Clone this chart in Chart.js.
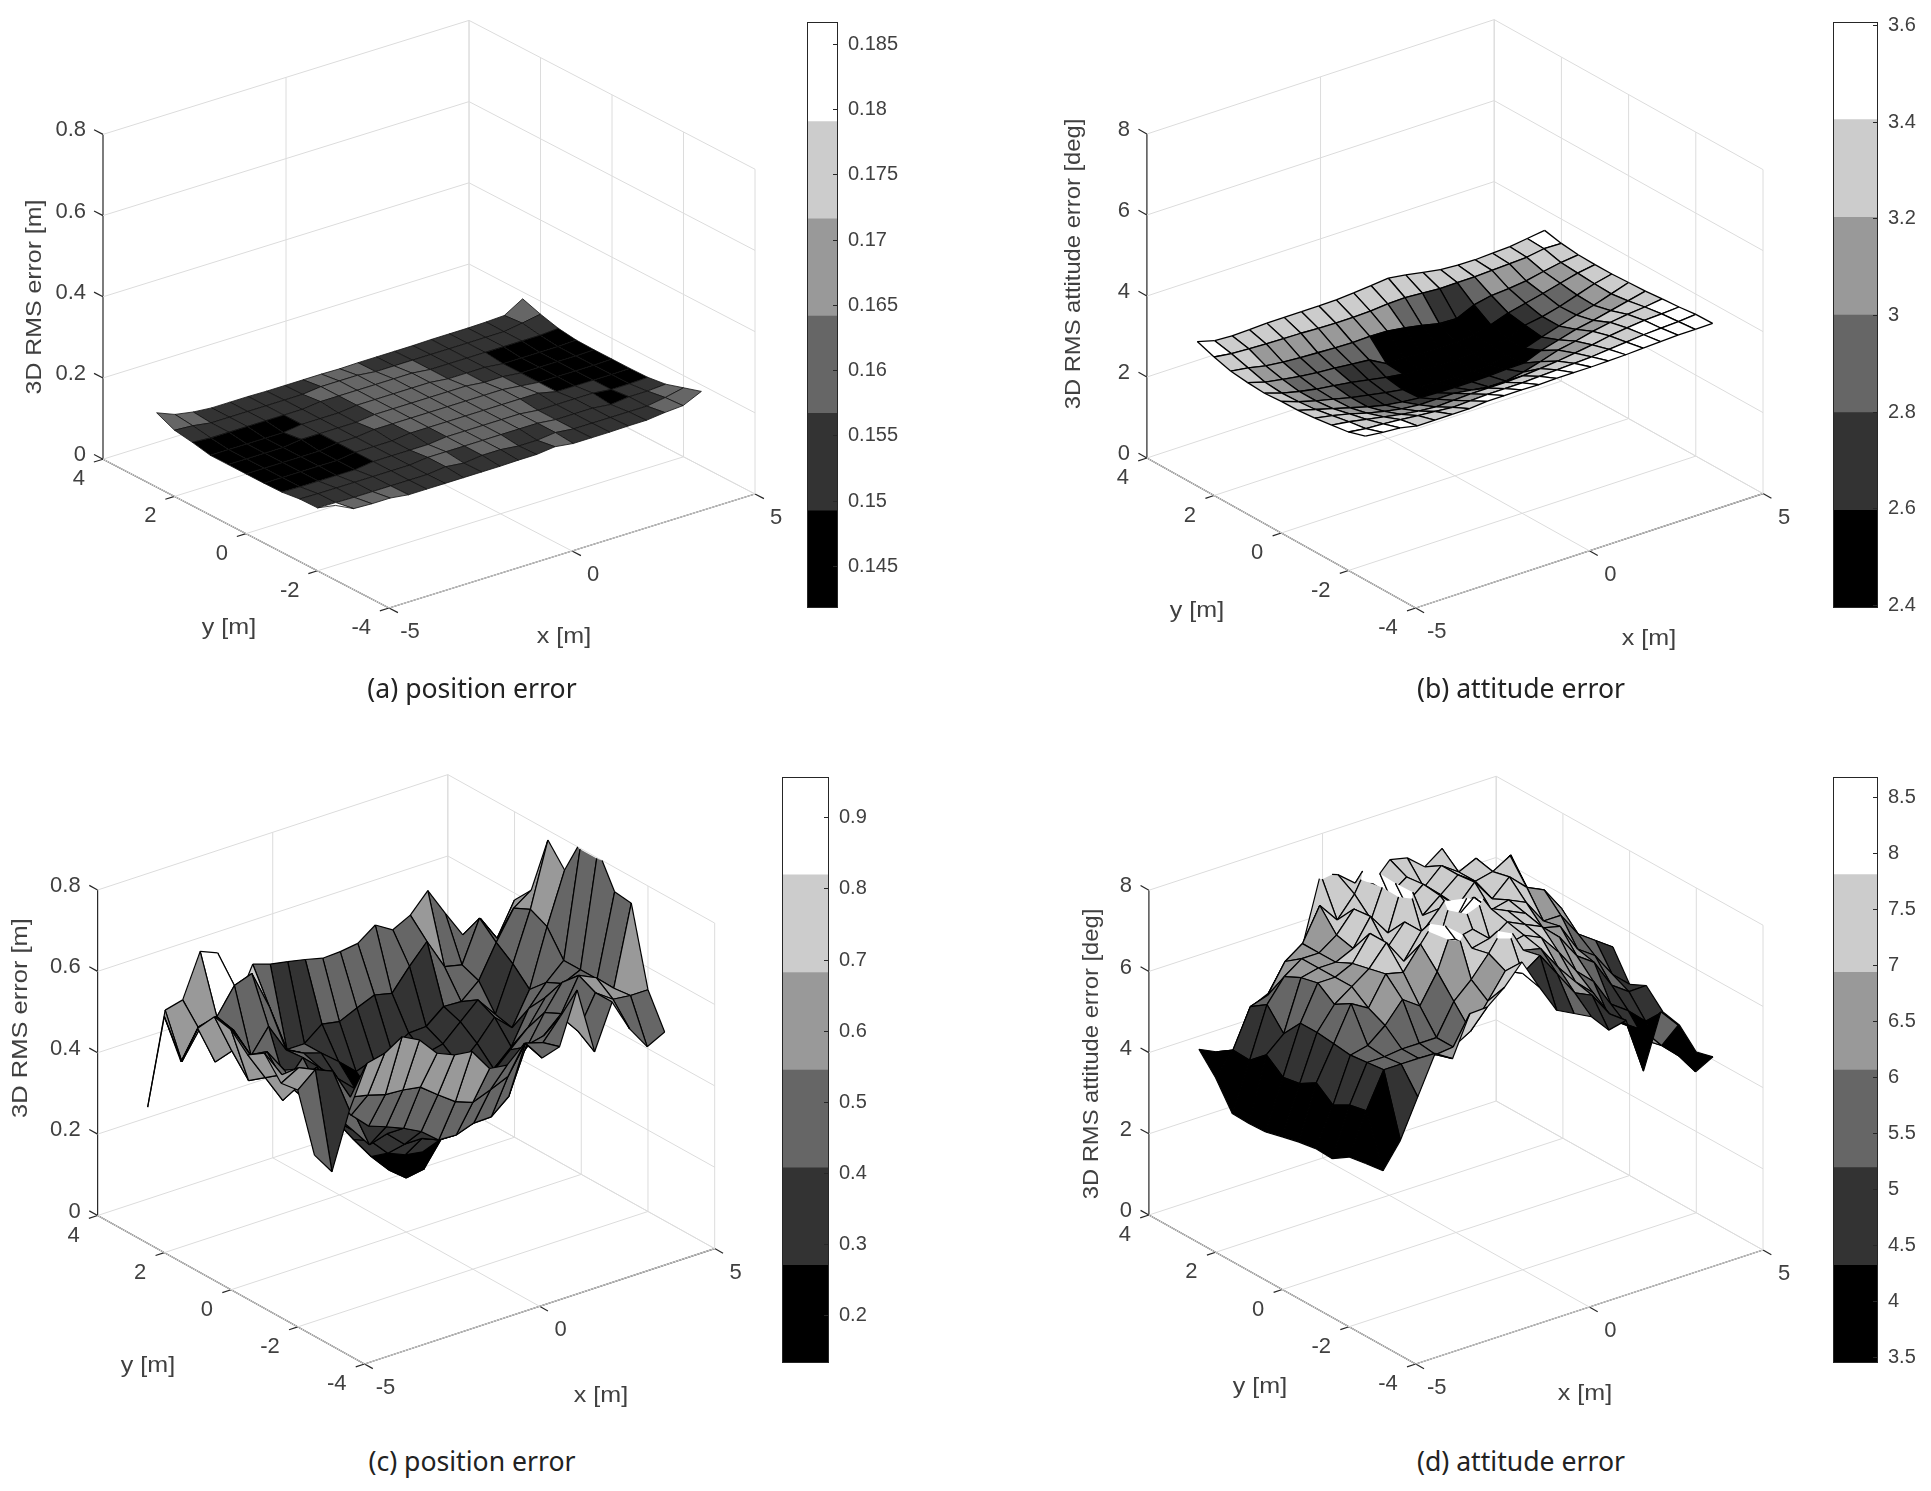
<!DOCTYPE html>
<html>
<head>
<meta charset="utf-8">
<title>3D RMS error</title>
<script src="https://cdn.jsdelivr.net/npm/chart.js@4"></script>
<style>
  html, body { margin: 0; background: #fff; overflow: hidden; }
  body { position: relative; width: 1931px; height: 1491px; }
  canvas { position: absolute; }
  .caption { position: absolute; width: 500px; text-align: center; font-family: "Noto Sans", sans-serif;
             font-size: 28px; color: #222; transform: scaleX(0.95); line-height: 36px; }
</style>
</head>
<body>
<script>
// grid of the measured surface
const gridX = [-5, -4.5, -4, -3.5, -3, -2.5, -2, -1.5, -1, -0.5, 0, 0.5, 1, 1.5, 2, 2.5, 3, 3.5, 4, 4.5, 5];
const gridY = [-2.5, -2, -1.5, -1, -0.5, 0, 0.5, 1, 1.5, 2, 2.5];
const xTicks = [-5, 0, 5];
const yTicks = [-4, -2, 0, 2, 4];
const bandColors = ['#000000', '#333333', '#666666', '#999999', '#cccccc', '#ffffff'];

// z values, one row per y in gridY, one column per x in gridX
const zA = [
  [.184,.162,.160,.160,.154,.154,.154,.154,.154,.154,.155,.155,.160,.154,.154,.154,.155,.155,.160,.163,.184],
  [.155,.154,.153,.153,.153,.153,.153,.158,.153,.158,.158,.153,.153,.158,.153,.153,.153,.153,.153,.160,.170],
  [.154,.153,.153,.153,.153,.153,.153,.158,.158,.158,.158,.158,.158,.158,.153,.153,.153,.148,.153,.153,.156],
  [.148,.147,.147,.147,.147,.153,.153,.153,.153,.158,.158,.158,.158,.158,.153,.153,.153,.153,.148,.148,.150],
  [.147,.147,.147,.147,.147,.153,.153,.153,.158,.158,.158,.158,.158,.158,.158,.158,.148,.148,.148,.148,.149],
  [.147,.147,.147,.147,.147,.153,.153,.158,.158,.158,.158,.158,.158,.158,.158,.153,.148,.148,.148,.148,.149],
  [.147,.147,.147,.147,.153,.153,.153,.153,.158,.158,.158,.158,.158,.158,.153,.153,.148,.148,.148,.148,.149],
  [.147,.147,.147,.147,.147,.153,.153,.153,.158,.158,.158,.158,.158,.153,.153,.153,.148,.148,.148,.148,.150],
  [.156,.153,.153,.153,.153,.153,.153,.158,.158,.158,.158,.158,.158,.153,.153,.153,.153,.153,.153,.153,.156],
  [.163,.160,.153,.153,.153,.153,.153,.153,.158,.158,.158,.153,.153,.153,.153,.153,.153,.153,.153,.160,.168],
  [.183,.165,.157,.153,.153,.153,.152,.152,.152,.152,.151,.152,.152,.152,.152,.153,.153,.153,.154,.156,.183]
];
const zB = [
  [3.55,3.50,3.47,3.38,3.38,3.38,3.38,3.42,3.42,3.42,3.41,3.42,3.42,3.42,3.43,3.44,3.46,3.48,3.50,3.50,3.51],
  [3.42,3.36,3.34,3.30,3.26,3.22,3.18,3.20,3.22,3.22,3.22,3.24,3.26,3.28,3.30,3.34,3.38,3.42,3.44,3.46,3.50],
  [3.36,3.30,3.22,3.14,3.06,3.00,2.96,2.98,3.00,3.00,3.00,3.02,3.06,3.10,3.16,3.22,3.30,3.36,3.40,3.42,3.45],
  [3.30,3.22,3.12,3.00,2.90,2.82,2.78,2.78,2.78,2.72,2.66,2.66,2.74,2.86,3.00,3.08,3.18,3.26,3.32,3.36,3.42],
  [3.26,3.14,3.02,2.90,2.78,2.68,2.62,2.58,2.56,2.55,2.55,2.56,2.58,2.59,2.76,2.88,3.00,3.08,3.18,3.28,3.38],
  [3.25,3.10,2.98,2.88,2.78,2.70,2.62,2.55,2.50,2.46,2.44,2.44,2.46,2.52,2.58,2.72,2.85,2.98,3.08,3.22,3.36],
  [3.22,3.08,2.98,2.90,2.84,2.78,2.70,2.62,2.56,2.52,2.50,2.50,2.52,2.56,2.59,2.78,2.85,2.96,3.10,3.24,3.34],
  [3.25,3.12,3.05,2.98,2.93,2.90,2.86,2.82,2.59,2.58,2.57,2.56,2.56,2.59,2.70,2.85,2.95,3.05,3.16,3.27,3.34],
  [3.30,3.24,3.15,3.10,3.07,3.05,3.03,3.02,3.03,3.02,2.96,2.88,2.78,2.76,2.96,3.05,3.08,3.13,3.22,3.30,3.35],
  [3.42,3.36,3.34,3.32,3.31,3.30,3.28,3.27,3.27,3.28,3.32,3.33,3.30,3.27,3.28,3.28,3.30,3.32,3.34,3.41,3.40],
  [3.57,3.45,3.43,3.44,3.46,3.46,3.46,3.46,3.47,3.50,3.54,3.58,3.52,3.44,3.37,3.34,3.33,3.35,3.37,3.43,3.49]
];
const zC = [
  [.445,.39,.527,.628,.638,.665,.643,.596,.578,.572,.516,.51,.55,.499,.513,.638,.472,.58,.50,.442,.464],
  [.582,.618,.60,.522,.513,.50,.497,.49,.457,.426,.41,.427,.445,.513,.50,.55,.50,.58,.55,.545,.545],
  [.576,.60,.54,.50,.441,.40,.384,.366,.344,.309,.307,.322,.323,.359,.47,.48,.52,.60,.58,.54,.735],
  [.627,.56,.52,.55,.47,.42,.317,.33,.29,.29,.272,.28,.32,.34,.38,.43,.50,.56,.54,.54,.74],
  [.60,.53,.46,.50,.44,.38,.33,.29,.245,.227,.22,.265,.31,.33,.36,.40,.44,.50,.52,.54,.82],
  [.639,.50,.52,.47,.42,.38,.33,.27,.214,.167,.133,.14,.20,.28,.29,.33,.37,.45,.50,.54,.82],
  [.648,.55,.48,.52,.46,.45,.38,.35,.30,.28,.28,.28,.28,.31,.33,.37,.42,.38,.46,.60,.725],
  [.597,.50,.564,.489,.479,.39,.44,.40,.36,.32,.29,.30,.32,.35,.36,.40,.44,.39,.50,.62,.776],
  [.492,.564,.574,.527,.45,.508,.436,.414,.40,.365,.326,.341,.351,.378,.38,.415,.413,.45,.53,.60,.63],
  [.58,.455,.52,.537,.60,.615,.519,.40,.40,.434,.426,.445,.463,.453,.505,.552,.476,.466,.567,.503,.583],
  [.335,.559,.57,.675,.657,.51,.601,.587,.579,.57,.559,.561,.567,.598,.572,.594,.64,.57,.503,.529,.462]
];
const zD = [
  [4.25,3.93,4.54,5.47,6.4,6.13,7.1,7.12,7.47,7.95,7.19,6.48,6.26,6.04,5.57,5.67,4.28,5.6,5.13,3.84,4.07],
  [4.18,5.18,6.05,6.05,6.05,6.0,6.05,6.3,6.9,7.5,7.3,7.6,7.0,6.4,6.2,5.6,5.2,4.9,4.4,4.0,3.96],
  [3.91,5.09,6.0,6.0,6.05,6.05,6.05,6.8,7.2,7.7,8.3,7.5,7.4,6.8,6.3,5.9,5.1,4.8,4.3,4.1,4.39],
  [3.93,4.86,5.95,6.05,6.4,6.9,6.6,7.3,8.4,7.6,7.7,7.4,7.5,7.3,6.8,6.2,5.8,5.1,4.8,4.4,4.49],
  [3.86,5.18,6.0,6.85,6.6,7.3,7.2,7.75,8.3,7.6,7.7,7.3,7.6,7.4,7.2,6.8,6.2,5.9,5.2,4.9,4.91],
  [3.76,4.93,6.05,6.6,6.9,7.2,7.7,7.1,7.7,7.3,8.6,8.4,7.7,7.5,7.3,6.8,6.7,6.0,5.7,5.1,4.71],
  [3.65,4.86,6.05,6.9,6.9,7.1,7.7,7.2,7.7,7.3,7.75,7.4,7.75,7.3,7.4,7.2,6.6,6.6,6.0,5.7,5.4],
  [3.63,5.18,5.56,6.8,6.9,6.9,7.1,7.75,7.2,8.5,7.35,7.7,7.3,7.75,7.2,7.6,7.2,7.0,6.4,5.5,4.63],
  [3.65,4.82,6.05,6.6,6.9,6.9,7.2,7.7,7.3,8.4,7.4,7.75,7.35,7.7,7.4,7.5,7.75,6.8,6.3,5.8,5.19],
  [4.3,4.84,5.77,5.91,6.6,6.9,7.7,7.2,7.7,8.5,7.4,7.7,7.3,7.7,7.4,7.6,7.0,7.4,6.2,5.6,4.92],
  [4.77,4.57,4.47,5.4,5.59,6.22,6.53,8.1,7.95,7.6,7.45,7.9,7.8,7.44,7.75,6.9,6.36,6.46,5.42,5.12,4.8]
];
// cells whose shade reads differently from their height: [column, row, band]
const shadeC = [[0,8,3],[1,8,3],[0,9,3],[1,9,3],[2,9,3],[3,9,5],[4,9,4],[5,9,4],[9,7,0]];
const shadeD = [[10,0,1],[11,0,1],[12,0,2],[13,0,1],[14,0,1],[15,0,1],[18,0,0],[11,1,2],[12,1,2],[13,1,3],[14,1,2],[15,1,2],[17,1,3]];

// color bar band limits and ticks
const edgesA = [.14178, .14923, .15668, .16413, .17158, .17903, .18666];
const edgesB = [2.394, 2.596, 2.798, 3.0, 3.202, 3.404, 3.606];
const edgesC = [.133, .2702, .4074, .5446, .6818, .819, .9565];
const edgesD = [3.448, 4.32, 5.192, 6.064, 6.936, 7.808, 8.68];
const barTicksA = ['0.145', '0.15', '0.155', '0.16', '0.165', '0.17', '0.175', '0.18', '0.185'];
const barTicksB = ['2.4', '2.6', '2.8', '3', '3.2', '3.4', '3.6'];
const barTicksC = ['0.2', '0.3', '0.4', '0.5', '0.6', '0.7', '0.8', '0.9'];
const barTicksD = ['3.5', '4', '4.5', '5', '5.5', '6', '6.5', '7', '7.5', '8', '8.5'];

const zTicksPos = ['0', '0.2', '0.4', '0.6', '0.8'];
const zTicksAtt = ['0', '2', '4', '6', '8'];

const panels = [
  { z: zA, edges: edgesA, barTicks: barTicksA, zTicks: zTicksPos, zLabel: '3D RMS error [m]', caption: '(a) position error',
    box: [0, 0, 800, 680], front: [389, 608], ex: [36.6, -11.4], ey: [-35.75, -18.6], ez: 406,
    xl: [564, 637], yl: [229, 628], zl: [35, 297], zlStretch: 1.13, capPos: [472, 687], bar: [806.5, 22, 30.5, 585.5], barAxis: 70, edgeColor: '#111', edgeWidth: 0.8 },
  { z: zB, edges: edgesB, barTicks: barTicksB, zTicks: zTicksAtt, zLabel: '3D RMS attitude error [deg]', caption: '(b) attitude error',
    box: [1000, 0, 830, 680], front: [1415.7, 608], ex: [34.73, -11.44], ey: [-33.6, -18.75], ez: 40.5,
    xl: [1649, 639], yl: [1197, 611], zl: [1074, 264], zlStretch: 1.08, capPos: [1521, 687], bar: [1832.5, 22, 45.2, 585.5], barAxis: 53, edgeColor: '#000', edgeWidth: 1.3 },
  { z: zC, edges: edgesC, barTicks: barTicksC, zTicks: zTicksPos, zLabel: '3D RMS error [m]', caption: '(c) position error', shade: shadeC,
    box: [0, 740, 780, 680], front: [364.5, 1364], ex: [35.02, -11.54], ey: [-33.36, -18.56], ez: 406.9,
    xl: [601, 1396], yl: [148, 1366], zl: [21, 1018], zlStretch: 1.16, capPos: [472, 1460], bar: [782.4, 777.4, 47.1, 586], barAxis: 70, edgeColor: '#000', edgeWidth: 1.2 },
  { z: zD, edges: edgesD, barTicks: barTicksD, zTicks: zTicksAtt, zLabel: '3D RMS attitude error [deg]', caption: '(d) attitude error', shade: shadeD,
    box: [1000, 740, 830, 680], front: [1415.7, 1364], ex: [34.73, -11.4], ey: [-33.35, -18.62], ez: 40.6,
    xl: [1585, 1394], yl: [1260, 1387], zl: [1092, 1054], zlStretch: 1.08, capPos: [1521, 1460], bar: [1833, 777.4, 44.7, 586.2], barAxis: 53, edgeColor: '#000', edgeWidth: 1.2 }
];

const tickColor = '#404040';
const gridColor = '#dcdcdc';
const axisFont = '22px "Liberation Sans", Arial, sans-serif';
const barFont = '20px "Liberation Sans", Arial, sans-serif';

function project(p, x, y, z) {
  return {
    x: p.front[0] + (x + 5) * p.ex[0] + (y + 4) * p.ey[0],
    y: p.front[1] + (x + 5) * p.ex[1] + (y + 4) * p.ey[1] - z * p.ez
  };
}

function bandColor(p, i, j) {
  if (p.shade) {
    const fix = p.shade.find(s => s[0] === i && s[1] === j);
    if (fix) return bandColors[fix[2]];
  }
  const v = p.z[j][i];
  for (let k = 1; k < p.edges.length - 1; k++) {
    if (v < p.edges[k]) return bandColors[k - 1];
  }
  return bandColors[bandColors.length - 1];
}

function lineSet(points, color, width) {
  return { data: points, showLine: true, borderColor: color, borderWidth: width, pointRadius: 0, fill: false, tension: 0 };
}

function buildDatasets(p) {
  const zVals = p.zTicks.map(Number);
  const zMax = zVals[zVals.length - 1];
  const sets = [];
  const grid = (a, b) => sets.push(lineSet([project(p, a[0], a[1], a[2]), project(p, b[0], b[1], b[2])], gridColor, 1));

  // walls and floor
  zVals.forEach(z => {
    if (z > 0) grid([-5, 4, z], [5, 4, z]);
    if (z >= 0) grid([5, 4, z], [5, -4, z]);
  });
  xTicks.forEach(x => {
    if (x > -5) grid([x, 4, 0], [x, 4, zMax]);
    grid([x, -4, 0], [x, 4, 0]);
  });
  yTicks.forEach(y => {
    grid([5, y, 0], [5, y, zMax]);
    grid([-5, y, 0], [5, y, 0]);
  });

  // dark axes and their ticks
  const axis = (a, b) => sets.push(lineSet([project(p, a[0], a[1], a[2]), project(p, b[0], b[1], b[2])], '#262626', 1.2));
  axis([-5, 4, 0], [-5, 4, zMax]);
  axis([-5, 4, 0], [-5, -4, 0]);
  axis([-5, -4, 0], [5, -4, 0]);
  zVals.forEach(z => axis([-5, 4, z], [-5, 4.25, z]));
  xTicks.forEach(x => axis([x, -4, 0], [x, -4.25, 0]));
  yTicks.forEach(y => axis([-5, y, 0], [-5.25, y, 0]));

  // the surface vertices, drawn as cells by surfacePlugin
  const verts = [];
  gridY.forEach((y, j) => gridX.forEach((x, i) => verts.push(project(p, x, y, p.z[j][i]))));
  sets.push({ data: verts, showLine: false, pointRadius: 0 });
  return sets;
}

// keep the part of a cell under the top of the z axis
function clipPolygon(pts, zMax) {
  const out = [];
  for (let k = 0; k < pts.length; k++) {
    const a = pts[k], b = pts[(k + 1) % pts.length];
    if (a.z <= zMax) out.push(a);
    if ((a.z <= zMax) !== (b.z <= zMax)) {
      const t = (zMax - a.z) / (b.z - a.z);
      out.push({ x: a.x + t * (b.x - a.x), y: a.y + t * (b.y - a.y), z: zMax });
    }
  }
  return out;
}

function clipSegment(a, b, zMax) {
  if (a.z > zMax && b.z > zMax) return null;
  if (a.z <= zMax && b.z <= zMax) return [a, b];
  const t = (zMax - a.z) / (b.z - a.z);
  const m = { x: a.x + t * (b.x - a.x), y: a.y + t * (b.y - a.y), z: zMax };
  return a.z <= zMax ? [a, m] : [m, b];
}

function drawText(ctx, text, x, y, font, align, sx, rot) {
  ctx.save();
  ctx.translate(x, y);
  if (rot) ctx.rotate(rot);
  if (sx) ctx.scale(sx, 1);
  ctx.font = font;
  ctx.fillStyle = tickColor;
  ctx.textAlign = align;
  ctx.textBaseline = 'middle';
  ctx.fillText(text, 0, 0);
  ctx.restore();
}

const surfacePlugin = {
  id: 'surface',
  afterDatasetsDraw(chart, args, opts) {
    const p = opts.panel;
    const ctx = chart.ctx;
    const sx = chart.scales.x, sy = chart.scales.y;
    const zMax = Number(p.zTicks[p.zTicks.length - 1]);
    const px = pt => {
      const q = project(p, pt.x, pt.y, pt.z);
      return [sx.getPixelForValue(q.x), sy.getPixelForValue(q.y)];
    };
    const vert = (i, j) => ({ x: gridX[i], y: gridY[j], z: p.z[j][i] });

    ctx.save();
    ctx.lineJoin = 'round';
    // back to front, the far corner is the largest x and y
    for (let j = gridY.length - 2; j >= 0; j--) {
      for (let i = gridX.length - 2; i >= 0; i--) {
        const quad = [vert(i, j), vert(i + 1, j), vert(i + 1, j + 1), vert(i, j + 1)];
        const poly = clipPolygon(quad, zMax);
        if (poly.length < 3) continue;
        ctx.beginPath();
        poly.forEach((pt, k) => {
          const c = px(pt);
          if (k === 0) ctx.moveTo(c[0], c[1]); else ctx.lineTo(c[0], c[1]);
        });
        ctx.closePath();
        ctx.fillStyle = bandColor(p, i, j);
        ctx.fill();
        ctx.strokeStyle = p.edgeColor;
        ctx.lineWidth = p.edgeWidth;
        for (let k = 0; k < 4; k++) {
          const seg = clipSegment(quad[k], quad[(k + 1) % 4], zMax);
          if (!seg) continue;
          const c0 = px(seg[0]), c1 = px(seg[1]);
          ctx.beginPath();
          ctx.moveTo(c0[0], c0[1]);
          ctx.lineTo(c1[0], c1[1]);
          ctx.stroke();
        }
      }
    }
    ctx.restore();

    // tick labels and axis names
    const at = (x, y, z) => {
      const q = project(p, x, y, z);
      return [sx.getPixelForValue(q.x), sy.getPixelForValue(q.y)];
    };
    p.zTicks.forEach(t => {
      const c = at(-5, 4, Number(t));
      drawText(ctx, t, c[0] - 17, c[1] - 4, axisFont, 'right');
    });
    xTicks.forEach(t => {
      const c = at(t, -4, 0);
      drawText(ctx, String(t), c[0] + 21, c[1] + 24, axisFont, 'center');
    });
    yTicks.forEach(t => {
      const c = at(-5, t, 0);
      drawText(ctx, String(t), c[0] - 18, c[1] + 20, axisFont, 'right');
    });
    const labelPos = q => [sx.getPixelForValue(q[0]), sy.getPixelForValue(q[1])];
    let c = labelPos(p.xl);
    drawText(ctx, 'x [m]', c[0], c[1], axisFont, 'center', 1.14);
    c = labelPos(p.yl);
    drawText(ctx, 'y [m]', c[0], c[1], axisFont, 'center', 1.14);
    c = labelPos(p.zl);
    drawText(ctx, p.zLabel, c[0], c[1], axisFont, 'center', p.zlStretch, -Math.PI / 2);
  }
};

function addCanvas(left, top, w, h) {
  const cv = document.createElement('canvas');
  cv.width = w;
  cv.height = h;
  cv.style.left = left + 'px';
  cv.style.top = top + 'px';
  cv.style.width = w + 'px';
  cv.style.height = h + 'px';
  document.body.appendChild(cv);
  return cv;
}

function drawSurfaceChart(p) {
  const b = p.box;
  new Chart(addCanvas(b[0], b[1], b[2], b[3]), {
    type: 'scatter',
    data: { datasets: buildDatasets(p) },
    plugins: [surfacePlugin],
    options: {
      responsive: false,
      animation: false,
      layout: { padding: 0 },
      plugins: { legend: { display: false }, tooltip: { enabled: false }, surface: { panel: p } },
      scales: {
        x: { type: 'linear', display: false, min: b[0], max: b[0] + b[2] },
        y: { type: 'linear', display: false, reverse: true, min: b[1], max: b[1] + b[3] }
      }
    }
  });
}

// frame, inner ticks and labels of the color bar
const barFrame = {
  id: 'barFrame',
  afterDraw(chart, args, opts) {
    const ctx = chart.ctx, a = chart.chartArea, y = chart.scales.y;
    ctx.save();
    ctx.strokeStyle = '#262626';
    ctx.lineWidth = 1;
    ctx.strokeRect(a.left + 0.5, a.top + 0.5, a.right - a.left - 1, a.bottom - a.top - 1);
    opts.ticks.forEach(t => {
      const py = Math.round(y.getPixelForValue(Number(t))) + 0.5;
      ctx.beginPath();
      ctx.moveTo(a.right - 5, py);
      ctx.lineTo(a.right, py);
      ctx.stroke();
      drawText(ctx, t, a.right + 10, py, barFont, 'left');
    });
    ctx.restore();
  }
};

function drawColorBar(p) {
  const b = p.bar, pad = 16;
  const e = p.edges;
  const sets = bandColors.map((col, k) => ({
    data: [[e[k], e[k + 1]]], backgroundColor: col, borderWidth: 0, barPercentage: 1, categoryPercentage: 1
  }));
  new Chart(addCanvas(b[0], b[1] - pad, Math.round(b[2] + p.barAxis), Math.round(b[3] + 2 * pad)), {
    type: 'bar',
    data: { labels: [''], datasets: sets },
    plugins: [barFrame],
    options: {
      responsive: false,
      animation: false,
      layout: { padding: { top: pad, bottom: pad, left: 0, right: p.barAxis } },
      plugins: { legend: { display: false }, tooltip: { enabled: false }, barFrame: { ticks: p.barTicks } },
      scales: {
        x: { display: false, stacked: true },
        y: { display: false, min: e[0], max: e[e.length - 1] }
      }
    }
  });
}

panels.forEach(p => {
  drawSurfaceChart(p);
  drawColorBar(p);
  const cap = document.createElement('div');
  cap.className = 'caption';
  cap.textContent = p.caption;
  cap.style.left = (p.capPos[0] - 250) + 'px';
  cap.style.top = (p.capPos[1] - 18) + 'px';
  document.body.appendChild(cap);
});
</script>
</body>
</html>
